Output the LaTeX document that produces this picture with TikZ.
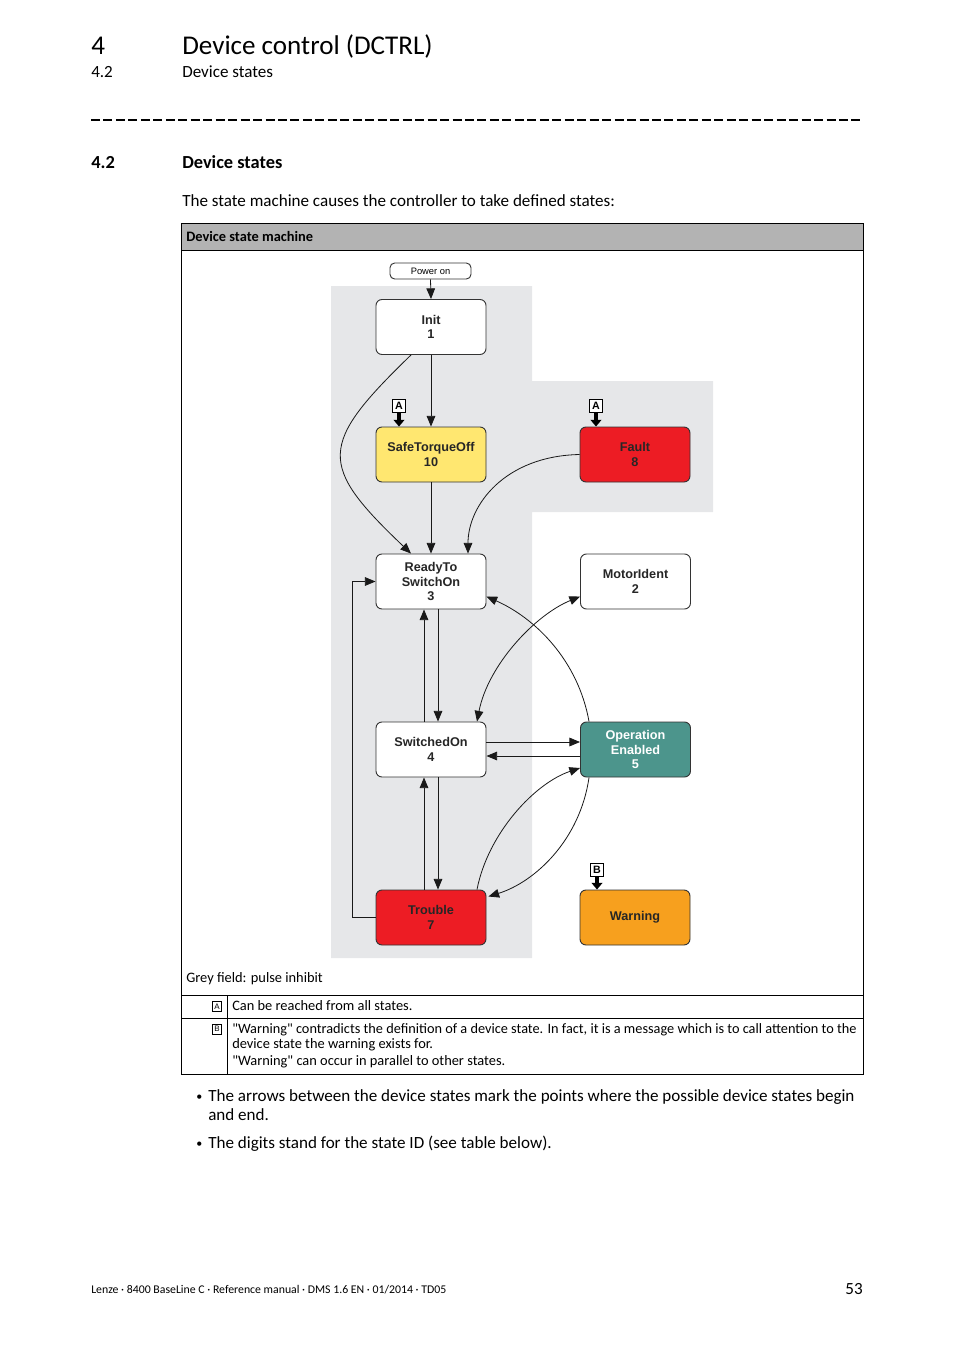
\documentclass[tikz,border=0pt]{standalone}
\usepackage{fontspec}
\setmainfont{Carlito}[Ligatures=TeXOff]
\newfontfamily\arial{Liberation Sans}
\usetikzlibrary{arrows.meta,calc}
\definecolor{greyfield}{HTML}{E6E7E9}
\definecolor{headband}{HTML}{B3B3B3}
\definecolor{stoyellow}{HTML}{FFE770}
\definecolor{faultred}{HTML}{ED1C24}
\definecolor{opteal}{HTML}{4C958C}
\definecolor{warnorange}{HTML}{F7A01E}
\definecolor{boxline}{HTML}{333333}
\tikzset{
  statebox/.style={draw=boxline, line width=0.7pt, rounded corners=4.5pt, minimum width=82.5pt, minimum height=41.25pt, align=center, font=\arial\bfseries\fontsize{9.5}{10.9}\selectfont, inner sep=0pt, text=black!85},
  arr/.style={draw=black!90, line width=0.6pt, -{Triangle[length=8pt,width=6.5pt]}},
  darr/.style={draw=black!90, line width=0.6pt, {Triangle[length=8pt,width=6.5pt]}-{Triangle[length=8pt,width=6.5pt]}},
  markbox/.style={draw=black, fill=white, line width=0.8pt, inner sep=0pt, minimum width=9.5pt, minimum height=10pt, font=\arial\bfseries\fontsize{8}{8}\selectfont},
  markarr/.style={draw=black, line width=3pt, -{Triangle[length=5pt,width=8pt]}},
  txt/.style={anchor=base west, inner sep=0pt, font=\fontsize{12.8}{15}\selectfont},
  legtxt/.style={anchor=base west, inner sep=0pt, font=\fontsize{10.8}{13}\selectfont},
  smallmark/.style={draw=black, line width=0.4pt, inner sep=0pt, minimum width=7pt, minimum height=7.5pt, font=\arial\fontsize{6}{6}\selectfont}
}
\begin{document}
\begin{tikzpicture}[x=0.75pt,y=-0.75pt]
\useasboundingbox (0,0) rectangle (954,1350);
% page header
\node[txt, font=\fontsize{20.3}{24}\selectfont] (ch) at (91,54.5) {4};
\node[txt, font=\fontsize{20.3}{24}\selectfont] (cht) at (182,54.5) {Device control (DCTRL)};
\node[txt] (sec) at (91,77.5) {4.2};
\node[txt] (sect) at (182,77.5) {Device states};
\draw[line width=0.8pt, dash pattern=on 6.75pt off 2.6pt] (91,120) -- (860,120);
\node[txt, font=\fontsize{13.8}{16}\selectfont\bfseries] (sec2) at (91,168.5) {4.2};
\node[txt, font=\fontsize{13.8}{16}\selectfont\bfseries] (sec2t) at (182,168.5) {Device states};
\node[txt] (intro) at (182,206.5) {The state machine causes the controller to take defined states:};
% table frame
\fill[headband] (181,223) rectangle (863,250);
\draw[line width=0.7pt] (181,223) rectangle (863,1074);
\draw[line width=0.7pt] (181,250) -- (863,250);
\node[txt, font=\fontsize{10.8}{13}\selectfont\bfseries] (hd) at (186,241.5) {Device state machine};
% grey field
\fill[greyfield] (331,286) -- (532,286) -- (532,381) -- (713,381) -- (713,512) -- (532,512) -- (532,958) -- (331,958) -- cycle;
% states
\node[draw=boxline, line width=0.7pt, rounded corners=3.5pt, minimum width=60.75pt, minimum height=12pt, inner sep=0pt, font=\arial\fontsize{7}{7}\selectfont, fill=white] (pwr) at (430.5,271) {Power on};
\node[statebox, fill=white] (init) at (431,327) {Init\\1};
\node[statebox, fill=stoyellow] (sto) at (431,454.5) {SafeTorqueOff\\10};
\node[statebox, fill=faultred] (fault) at (635,454.5) {Fault\\8};
\node[statebox, fill=white] (rtso) at (431,581.5) {ReadyTo\\SwitchOn\\3};
\node[statebox, fill=white] (mid) at (635.5,581.5) {MotorIdent\\2};
\node[statebox, fill=white] (swon) at (431,749.5) {SwitchedOn\\4};
\node[statebox, fill=opteal, text=white] (oe) at (635.5,749.5) {Operation\\Enabled\\5};
\node[statebox, fill=faultred] (trb) at (431,917.5) {Trouble\\7};
\node[statebox, fill=warnorange] (warn) at (635,917.5) {Warning};
% markers
\node[markbox] (ma1) at (399,406) {A};
\node[markbox] (ma2) at (596,406) {A};
\node[markbox] (mb) at (597,870) {B};
\draw[markarr] (ma1.south) -- (ma1.south |- sto.north);
\draw[markarr] (ma2.south) -- (ma2.south |- fault.north);
\draw[markarr] (mb.south) -- (mb.south |- warn.north);
% connectors
\draw[arr] (pwr.south) -- (init.north);
\draw[arr] (init.south) -- (sto.north);
\draw[arr] ($(init.south)+(-20,0)$) .. controls (318,445) and (318,465) .. ($(rtso.north)+(-20,0)$);
\draw[arr] (sto.south) -- (rtso.north);
\draw[arr] (fault.west) .. controls (505,456) and (468,505) .. ($(rtso.north)+(37,0)$);
\draw[arr] ($(swon.north)+(-7,0)$) -- ($(rtso.south)+(-7,0)$);
\draw[arr] ($(rtso.south)+(7,0)$) -- ($(swon.north)+(7,0)$);
\draw[arr] (trb.west) -- ++(-23,0) |- (rtso.west);
\draw[arr] ($(oe.north west)+(9,0)$) .. controls (578,660) and (535,618) .. ($(rtso.east)+(0,15)$);
\draw[darr] ($(swon.north)+(46,0)$) .. controls (488,665) and (535,615) .. ($(mid.west)+(0,15)$);
\draw[arr] ($(swon.east)+(0,-7.5)$) -- ($(oe.west)+(0,-7.5)$);
\draw[arr] ($(oe.west)+(0,6.5)$) -- ($(swon.east)+(0,6.5)$);
\draw[arr] ($(trb.north)+(-7,0)$) -- ($(swon.south)+(-7,0)$);
\draw[arr] ($(swon.south)+(7,0)$) -- ($(trb.north)+(7,0)$);
\draw[arr] ($(trb.north)+(46,0)$) .. controls (488,833) and (535,783) .. ($(oe.west)+(0,18.5)$);
\draw[arr] ($(oe.south west)+(9,0)$) .. controls (580,840) and (535,882) .. ($(trb.east)+(2,-21)$);
% legend
\node[legtxt] (gf) at (186,982.5) {Grey field: pulse inhibit};
\draw[line width=0.5pt] (181,995) -- (863,995);
\draw[line width=0.5pt] (181,1018) -- (863,1018);
\draw[line width=0.5pt] (227,995) -- (227,1074);
\node[smallmark] (la) at (217,1006.5) {A};
\node[legtxt] (lat) at (232,1010.5) {Can be reached from all states.};
\node[smallmark] (lb) at (217,1029) {B};
\node[legtxt, font=\fontsize{10.72}{13}\selectfont] (lbt1) at (232,1033.5) {"Warning" contradicts the definition of a device state. In fact, it is a message which is to call attention to the};
\node[legtxt] (lbt2) at (232,1048.5) {device state the warning exists for.};
\node[legtxt] (lbt3) at (232,1065.5) {"Warning" can occur in parallel to other states.};
% bullets
\node[txt, font=\fontsize{9}{10}\selectfont] (b1) at (196,1100.5) {•};
\node[txt] (b1t) at (208,1101.5) {The arrows between the device states mark the points where the possible device states begin};
\node[txt] (b1u) at (208,1120.5) {and end.};
\node[txt, font=\fontsize{9}{10}\selectfont] (b2) at (196,1147.5) {•};
\node[txt] (b2t) at (208,1148.5) {The digits stand for the state ID (see table below).};
% footer
\node[txt, font=\fontsize{8.85}{10}\selectfont] (ft) at (91,1293.5) {Lenze · 8400 BaseLine C · Reference manual · DMS 1.6 EN · 01/2014 · TD05};
\node[anchor=base east, inner sep=0pt, font=\fontsize{12.8}{15}\selectfont] (pg) at (863,1294.5) {53};
\end{tikzpicture}
\end{document}
